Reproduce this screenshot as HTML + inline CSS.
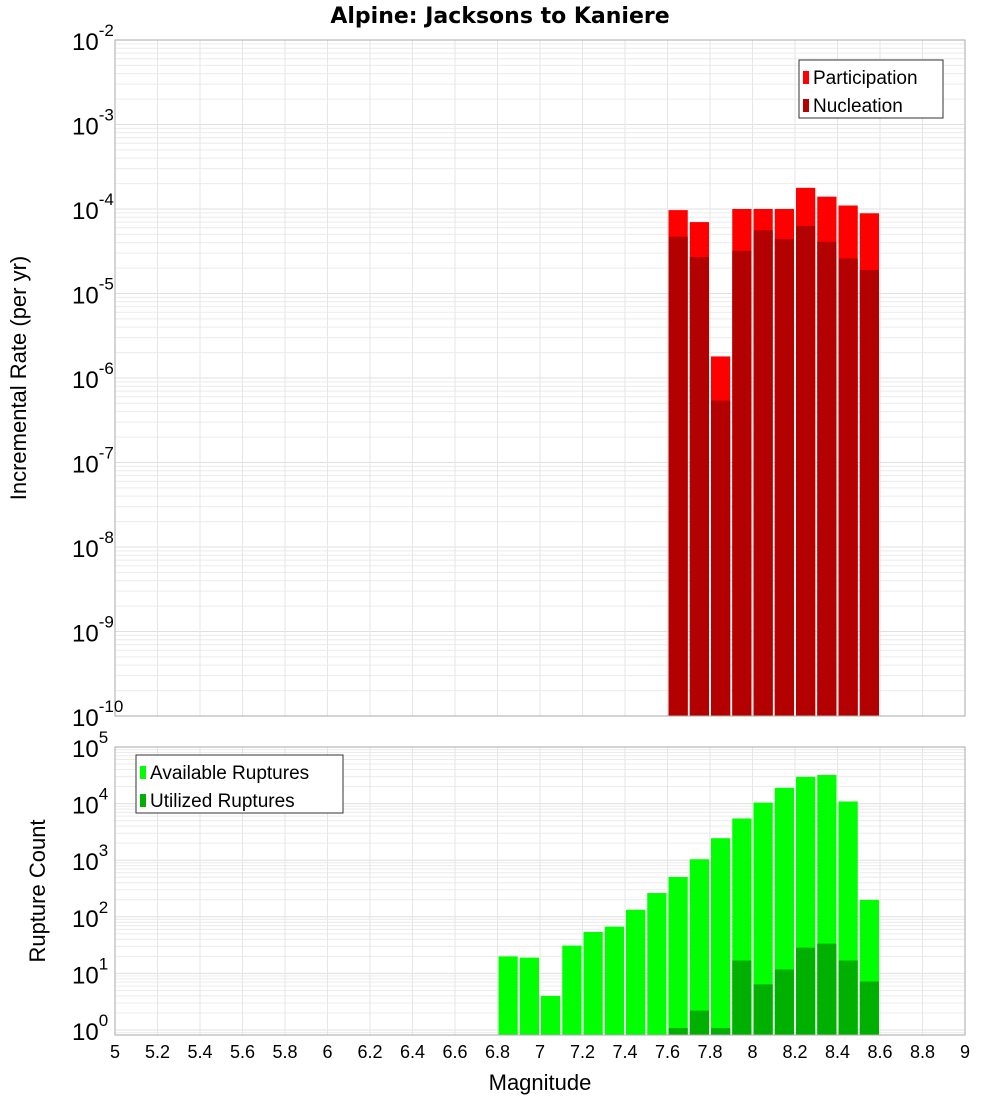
<!DOCTYPE html>
<html><head><meta charset="utf-8"><style>
body{margin:0;background:#fff;font-family:"Liberation Sans","DejaVu Sans",sans-serif;}
svg{display:block}
</style></head><body>
<svg id="c" width="1000" height="1100" xmlns="http://www.w3.org/2000/svg">
<text x="500" y="23" text-anchor="middle" font-size="22" font-weight="bold" font-family="DejaVu Sans, sans-serif">Alpine: Jacksons to Kaniere</text>
</svg>
<script>
const binStarts = [6.8,6.9,7.0,7.1,7.2,7.3,7.4,7.5,7.6,7.7,7.8,7.9,8.0,8.1,8.2,8.3,8.4,8.5];
const participation = [0,0,0,0,0,0,0,0,9.7e-5,7.0e-5,1.8e-6,1.0e-4,1.0e-4,1.0e-4,1.78e-4,1.4e-4,1.1e-4,8.9e-5];
const nucleation = [0,0,0,0,0,0,0,0,4.7e-5,2.7e-5,5.4e-7,3.2e-5,5.6e-5,4.4e-5,6.3e-5,4.1e-5,2.6e-5,1.9e-5];
const available = [20,19,4,31,54,67,133,263,505,1040,2450,5460,10400,19000,29700,32000,10900,199];
const utilized = [0,0,0,0,0,0,0,0,1.08,2.2,1.08,16.9,6.4,11.7,28.5,33.6,16.9,7.2];
const xTicks = [5,5.2,5.4,5.6,5.8,6,6.2,6.4,6.6,6.8,7,7.2,7.4,7.6,7.8,8,8.2,8.4,8.6,8.8,9];
const topExps = [-10,-9,-8,-7,-6,-5,-4,-3,-2];
const botExps = [0,1,2,3,4,5];

const NS="http://www.w3.org/2000/svg";
const svg=document.getElementById('c');
function mk(tag,attrs,parent){const e=document.createElementNS(NS,tag);for(const k in attrs)e.setAttribute(k,attrs[k]);(parent||svg).appendChild(e);return e;}
const L=115,R=965;
const xs=v=>L+(v-5)/(9-5)*(R-L);
const T1=40,B1=716;
const ys1=v=>T1+(-2-Math.log10(v))/8*(B1-T1);
const T2=747,B2=1035,Z2=1030;
const ys2=v=>T2+(5-Math.log10(v))/5*(Z2-T2);

function panel(T,B,ys,exps,name){
  const g=mk('g',{});
  
  
  for(let i=0;i<exps.length;i++){const e=exps[i];
    for(let m=1;m<10;m++){const y=ys(m*Math.pow(10,e));if(y<T||y>B)continue;
      mk('line',{x1:L,x2:R,y1:y,y2:y,stroke:m==1?'#e0e0e0':'#ececec','stroke-width':1},g);}
    const y0=ys(Math.pow(10,e-1)*9);
  }
  for(const t of xTicks){const x=xs(t);mk('line',{x1:x,x2:x,y1:T,y2:B,stroke:'#e6e6e6','stroke-width':1},g);}
}
panel(T1,B1,ys1,[-11,...topExps],'top');
panel(T2,B2,ys2,[-1,...botExps],'bottom');

function bars(vals,ys,B,color,name){
  for(let i=0;i<binStarts.length;i++){if(!(vals[i]>0))continue;
    const x0=xs(binStarts[i])+1,x1=xs(binStarts[i]+0.1)-1,y=Math.max(ys(vals[i]),0);
    const r=mk('rect',{x:x0,y:y,width:x1-x0,height:B-y,fill:color});
    
    
  }
}
bars(participation,ys1,B1,'#ff0000','participation');
bars(nucleation,ys1,B1,'#b30000','nucleation');
bars(available,ys2,B2,'#00ff00','available');
bars(utilized,ys2,B2,'#00b000','utilized');

mk('rect',{x:L,y:T1,width:R-L,height:B1-T1,fill:'none',stroke:'#aaa'});
mk('rect',{x:L,y:T2,width:R-L,height:B2-T2,fill:'none',stroke:'#aaa'});

function ylabels(exps,ys,name){
  for(const e of exps){const y=ys(Math.pow(10,e));
    const t=mk('text',{x:72,y:y+10,'font-size':24,fill:'#000'});
    
    
    t.textContent='10';
    const s=mk('tspan',{dy:-14,'font-size':17},t);s.textContent=String(e);
  }
}
ylabels(topExps,ys1,'top-y');
ylabels(botExps,ys2,'bottom-y');
for(const t of xTicks){
  const el=mk('text',{x:xs(t),y:1058,'text-anchor':'middle','font-size':18});
  
  
  el.textContent=String(t);
}
let t=mk('text',{x:540,y:1090,'text-anchor':'middle','font-size':22});
t.textContent='Magnitude';
t=mk('text',{x:26,y:378,'text-anchor':'middle','font-size':22,transform:'rotate(-90 26 378)'});
t.textContent='Incremental Rate (per yr)';
t=mk('text',{x:45,y:891,'text-anchor':'middle','font-size':22,transform:'rotate(-90 45 891)'});
t.textContent='Rupture Count';

function legend(x,y,w,items,name){
  const g=mk('g',{});
  
  
  mk('rect',{x:x,y:y,width:w,height:58,fill:'#fff',stroke:'#333'},g);
  items.forEach((it,i)=>{
    mk('rect',{x:x+4,y:y+11+i*28,width:6,height:13,fill:it[1]},g);
    const tx=mk('text',{x:x+14,y:y+24+i*28,'font-size':19},g);tx.textContent=it[0];
  });
}
legend(799,60,144,[['Participation','#ff0000'],['Nucleation','#b30000']],'top-legend');
legend(136,755,207,[['Available Ruptures','#00ff00'],['Utilized Ruptures','#00b000']],'bottom-legend');
</script>
</body></html>
